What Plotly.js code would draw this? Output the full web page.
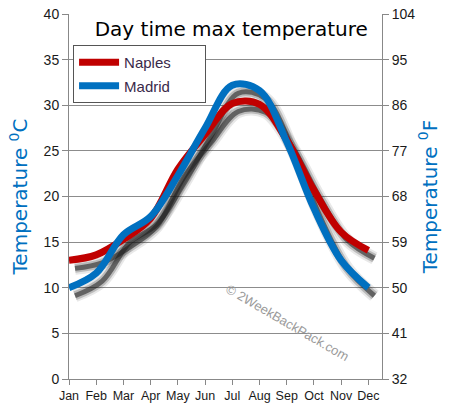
<!DOCTYPE html>
<html>
<head>
<meta charset="utf-8">
<script src="https://cdn.plot.ly/plotly-3.0.1.min.js"></script>
<style>html,body{margin:0;padding:0;background:#fff;}#chart{width:449px;height:420px;}</style>
</head>
<body>
<div id="chart"></div>
<script>
var months = ["Jan","Feb","Mar","Apr","May","Jun","Jul","Aug","Sep","Oct","Nov","Dec"];
var seriesNames = ["Naples", "Madrid"];
var naples = [13.0, 13.6, 15.3, 17.6, 23.0, 26.8, 30.2, 30.1, 26.2, 20.7, 16.1, 14.1];
var madrid = [10.0, 11.6, 15.8, 17.8, 22.3, 27.5, 32.2, 31.6, 26.0, 18.7, 13.0, 10.0];
var cTicks = [0,5,10,15,20,25,30,35,40];
var fTicks = [32,41,50,59,68,77,86,95,104];

var idx = months.map(function(m,i){return i;});
var pad = '\u00a0\u00a0\u00a0\u00a0\u00a0\u00a0\u00a0';
var traces = [];
// blurred shadows on the (hidden, shifted) primary axes
[naples, madrid].forEach(function(series){
  [[13,0.10],[9,0.22],[5,0.55]].forEach(function(s){
    traces.push({x: idx, y: series, type:'scatter', mode:'lines',
      line:{shape:'spline', width:s[0], color:'rgba(25,25,25,'+s[1]+')'},
      xaxis:'x', yaxis:'y', showlegend:false, hoverinfo:'skip'});
  });
});
traces.push({x: idx, y: naples, name:seriesNames[0]+pad, legendgroup:'a', type:'scatter', mode:'lines',
  line:{shape:'spline', width:7, color:'#c00000'}, xaxis:'x2', yaxis:'y2'});
traces.push({x: idx, y: madrid, name:seriesNames[1]+pad, legendgroup:'b', type:'scatter', mode:'lines',
  line:{shape:'spline', width:7, color:'#0070c0'}, xaxis:'x2', yaxis:'y2'});

var dxm = 6/27.2, dyc = 8/9.125;
var tickFont = {family:'Liberation Sans, Arial, sans-serif', size:14, color:'#1a1a1a'};
var layout = {
  width:449, height:420,
  margin:{l:69, r:67, t:14, b:41},
  paper_bgcolor:'#fff', plot_bgcolor:'#fff',
  showlegend:true,
  title:{text:'Day time max temperature', x:0.515, xanchor:'center', y:0.93, yanchor:'middle',
    font:{family:'DejaVu Sans, sans-serif', size:20, color:'#000'}},
  xaxis:{range:[-dxm, 11.5-dxm], visible:false, fixedrange:true},
  yaxis:{range:[dyc, 40+dyc], visible:false, fixedrange:true},
  xaxis2:{overlaying:'x', range:[0,11.5], tickmode:'array', tickvals:idx, ticktext:months,
    showgrid:false, showline:true, linecolor:'#888', linewidth:1, ticks:'outside', ticklen:5,
    tickcolor:'#888', tickfont:{family:'Liberation Sans, Arial, sans-serif', size:12.5, color:'#1a1a1a'}, zeroline:false},
  yaxis2:{overlaying:'y', side:'left', range:[0,40], tickvals:cTicks, showgrid:true, gridcolor:'#8c8c8c',
    gridwidth:1, showline:true, linecolor:'#888', ticks:'outside', ticklen:6, tickcolor:'#888',
    tickfont:tickFont, zeroline:false,
    title:{text:'Temperature <sup>0</sup>C', font:{family:'DejaVu Sans, sans-serif', size:20, color:'#0070c0'}, standoff:10}},
  yaxis3:{overlaying:'y', side:'right', anchor:'x2', range:[32,104], tickvals:fTicks, showgrid:false,
    showline:true, linecolor:'#888', ticks:'outside', ticklen:6, tickcolor:'#888', tickfont:tickFont, zeroline:false,
    title:{text:'Temperature <sup>0</sup>F', font:{family:'DejaVu Sans, sans-serif', size:20, color:'#0070c0'}, standoff:8}},
  legend:{x:0.013, y:0.915, xanchor:'left', yanchor:'top', bgcolor:'#fff', bordercolor:'#555', borderwidth:1,
    font:{family:'Liberation Sans, Arial, sans-serif', size:15, color:'#3a2a4a'}, tracegroupgap:1,
    traceorder:'grouped', itemwidth:40},
  annotations:[{text:'© 2WeekBackPack.com', xref:'paper', yref:'paper', x:0.697, y:0.156,
    xanchor:'center', yanchor:'middle',
    showarrow:false, textangle:30, font:{family:'Liberation Sans, Arial, sans-serif', size:13, color:'#9a9a9a'}}]
};
// dummy trace so the Fahrenheit axis is drawn, built from the Celsius data
traces.push({x: idx, y: madrid.map(function(c){return 32+1.8*c;}), xaxis:'x2', yaxis:'y3', type:'scatter', mode:'lines',
  line:{width:0, color:'rgba(0,0,0,0)'}, showlegend:false, hoverinfo:'skip'});
Plotly.newPlot('chart', traces, layout, {staticPlot:true});
</script>
</body>
</html>
